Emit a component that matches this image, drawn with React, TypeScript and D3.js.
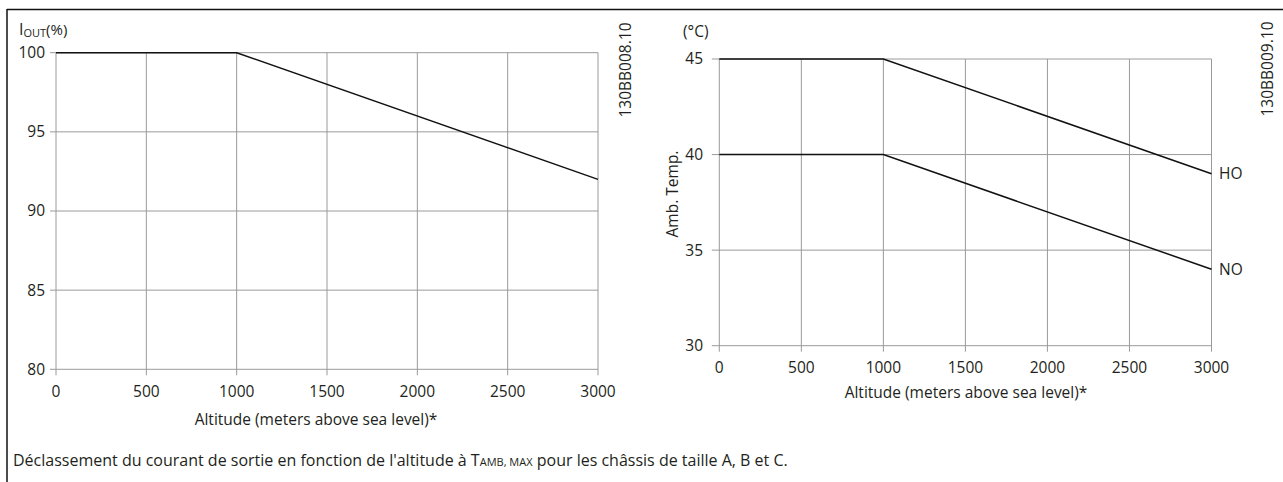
import React from 'react';
import * as d3 from 'd3';

const altitudeTicks = [0, 500, 1000, 1500, 2000, 2500, 3000];
const currentTicks = [80, 85, 90, 95, 100];
const tempTicks = [30, 35, 40, 45];

const currentAltitude = [0, 1000, 3000];
const currentValues = [100, 100, 92];
const hoAltitude = [0, 1000, 3000];
const hoValues = [45, 45, 39];
const noAltitude = [0, 1000, 3000];
const noValues = [40, 40, 34];

const FONT = "'Open Sans', 'Noto Sans', sans-serif";
const TXT = '#231f20';
const GRID = '#9a9a9a';
const FS = 15.5;

function Line({ xs, ys, x, y }: { xs: number[]; ys: number[]; x: any; y: any }) {
  const pts = xs.map((v, i) => [v, ys[i]] as [number, number]);
  const gen = d3.line<[number, number]>().x((d) => x(d[0])).y((d) => y(d[1]));
  return <path d={gen(pts) || ''} fill="none" stroke="#111" strokeWidth={1.5} />;
}

export default function App() {
  const xL = d3.scaleLinear().domain([0, 3000]).range([56, 598]);
  const yL = d3.scaleLinear().domain([80, 100]).range([369.3, 52.7]);
  const xR = d3.scaleLinear().domain([0, 3000]).range([719.3, 1211.5]);
  const yR = d3.scaleLinear().domain([30, 45]).range([345.7, 59]);

  const grid = (x: any, y: any, yTicks: number[], tickLen: number) => {
    const [y0, y1] = y.range();
    const [x0, x1] = x.range();
    return (
      <g>
        {altitudeTicks.map((t) => (
          <line key={'v' + t} x1={x(t)} x2={x(t)} y1={y1} y2={y0 + 6} stroke={GRID} strokeWidth={1} />
        ))}
        {yTicks.map((t) => (
          <line key={'h' + t} x1={x0 - tickLen} x2={x1} y1={y(t)} y2={y(t)} stroke={GRID} strokeWidth={1} />
        ))}
      </g>
    );
  };

  return (
    <svg width={1283} height={482} style={{ position: 'absolute', left: 0, top: 0 }} fontFamily={FONT}>
      <rect x={0} y={0} width={1283} height={482} fill="#fff" />
      {/* frame */}
      <line x1={7} x2={1283} y1={9.5} y2={9.5} stroke="#111" strokeWidth={1.5} />
      <line x1={7} x2={7} y1={9} y2={482} stroke="#111" strokeWidth={1.5} />

      {/* left chart */}
      {grid(xL, yL, currentTicks, 6)}
      <Line xs={currentAltitude} ys={currentValues} x={xL} y={yL} />
      {currentTicks.map((t) => (
        <text key={t} x={45} y={yL(t)} dy="0.35em" textAnchor="end" fontSize={FS} fill={TXT}>{t}</text>
      ))}
      {altitudeTicks.map((t) => (
        <text key={t} x={xL(t)} y={397} textAnchor="middle" fontSize={FS} fill={TXT}>{t}</text>
      ))}
      <text x={316} y={425} textAnchor="middle" fontSize={FS} fill={TXT}>Altitude (meters above sea level)*</text>
      <text x={19} y={35} fontSize={16} fill={TXT}>
        I<tspan fontSize={11} dy={2}>OUT</tspan><tspan fontSize={15} dy={-2}>(%)</tspan>
      </text>
      <text transform="translate(631,70) rotate(-90)" textAnchor="middle" fontSize={FS} fill={TXT}>130BB008.10</text>

      {/* right chart */}
      {grid(xR, yR, tempTicks, 7.5)}
      <Line xs={hoAltitude} ys={hoValues} x={xR} y={yR} />
      <Line xs={noAltitude} ys={noValues} x={xR} y={yR} />
      {tempTicks.map((t) => (
        <text key={t} x={703} y={yR(t)} dy="0.35em" textAnchor="end" fontSize={FS} fill={TXT}>{t}</text>
      ))}
      {altitudeTicks.map((t) => (
        <text key={t} x={xR(t)} y={373} textAnchor="middle" fontSize={FS} fill={TXT}>{t}</text>
      ))}
      <text x={966} y={398} textAnchor="middle" fontSize={FS} fill={TXT}>Altitude (meters above sea level)*</text>
      <text x={683} y={37} fontSize={FS} fill={TXT}>(°C)</text>
      <text transform="translate(678,194) rotate(-90)" textAnchor="middle" fontSize={FS} fill={TXT}>Amb. Temp.</text>
      <text transform="translate(1273,69) rotate(-90)" textAnchor="middle" fontSize={FS} fill={TXT}>130BB009.10</text>
      <text x={1219} y={yR(hoValues[2])} dy="0.35em" fontSize={FS} fill={TXT}>HO</text>
      <text x={1219} y={yR(noValues[2])} dy="0.35em" fontSize={FS} fill={TXT}>NO</text>

      {/* caption */}
      <text x={13} y={466} fontSize={16} fill={TXT}>
        Déclassement du courant de sortie en fonction de l'altitude à T<tspan fontSize={11}>AMB, MAX</tspan> pour les châssis de taille A, B et C.
      </text>
    </svg>
  );
}
